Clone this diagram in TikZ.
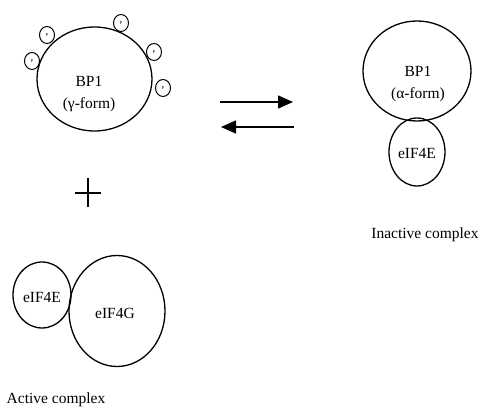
\documentclass[tikz,border=0pt]{standalone}
\usepackage{fontspec}
\setmainfont{Liberation Serif}
\usetikzlibrary{shapes.geometric,arrows.meta}

\begin{document}
\begin{tikzpicture}[x=20pt, y=20pt,
    blob/.style={ellipse, draw, line width=1.3pt, inner sep=0pt},
    phos/.style={ellipse, draw, line width=1pt, inner sep=0pt, minimum width=15pt, minimum height=17pt, font=\fontsize{4.5}{4.5}\selectfont},
    lbl/.style={align=center, font=\fontsize{15.5}{22}\selectfont},
    react/.style={line width=1.5pt, -{Triangle[length=15pt, width=13pt]}}]
    \useasboundingbox (0,0) rectangle (24,20.35);

    % BP1 carrying the phosphates
    \node[blob, minimum width=115pt, minimum height=104pt] (gam) at (4.725,16.4) {};
    \node[lbl] (gamtxt) at (4.45,15.65) {BP1\\(γ-form)};
    \foreach \i/\pos in {1/{(1.6,17.3)}, 2/{(2.35,18.6)}, 3/{(6.05,19.2)}, 4/{(7.7,17.75)}, 5/{(8.15,15.95)}}
        \node[phos] (p\i) at \pos {P};

    % plus sign
    \coordinate (plus) at (4.4,10.7);
    \draw[line width=1.3pt] ([xshift=-13pt]plus) -- ([xshift=13pt]plus);
    \draw[line width=1.3pt] ([yshift=-14.5pt]plus) -- ([yshift=14.5pt]plus);

    % active complex
    \node[blob, minimum width=58pt, minimum height=66pt] (e4e) at (2.1,5.6) {};
    \node[lbl] (e4etxt) at (2.1,5.5) {eIF4E};
    \node[blob, minimum width=96pt, minimum height=111pt] (e4g) at (5.85,4.8) {};
    \node[lbl] (e4gtxt) at (5.75,4.7) {eIF4G};
    \node[lbl] (act) at (2.8,0.35) {Active complex};

    % equilibrium arrows
    \coordinate (fwdA) at (11,15.25);
    \coordinate (fwdB) at (14.65,15.25);
    \coordinate (revA) at (14.7,14.0);
    \coordinate (revB) at (11.05,14.0);
    \draw[react] (fwdA) -- (fwdB);
    \draw[react] (revA) -- (revB);

    % inactive complex
    \node[blob, minimum width=108pt, minimum height=100pt] (alp) at (20.85,16.8) {};
    \node[lbl] (alptxt) at (20.9,16.15) {BP1\\(α-form)};
    \node[blob, minimum width=56pt, minimum height=68pt] (i4e) at (20.85,12.75) {};
    \node[lbl] (i4etxt) at (20.85,12.7) {eIF4E};
    \node[lbl] (inact) at (21.25,8.6) {Inactive complex};
\end{tikzpicture}
\end{document}
